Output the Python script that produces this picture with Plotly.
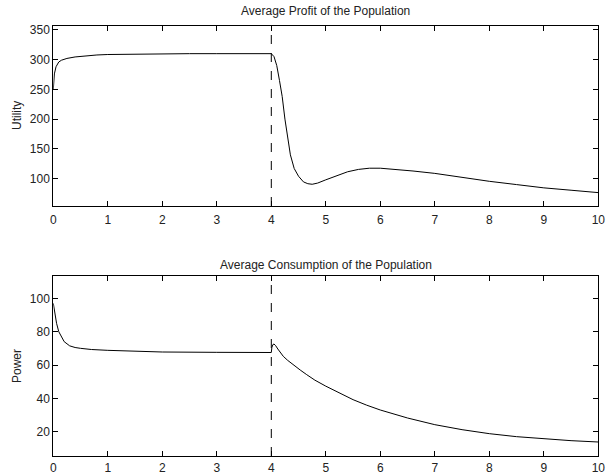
import plotly.graph_objects as go

# ---- data ----
profit_t = [0, 0.02, 0.05, 0.1, 0.15, 0.25, 0.4, 0.6, 0.8, 1.0, 1.5, 2.0, 2.5, 3.0, 3.5, 4.0,
            4.05, 4.1, 4.15, 4.2, 4.25, 4.3, 4.35, 4.42, 4.5, 4.59, 4.67, 4.75, 4.85, 5.0,
            5.2, 5.4, 5.6, 5.8, 6.0, 6.3, 6.6, 7.0, 7.5, 8.0, 8.5, 9.0, 9.5, 10.0]
profit_u = [250, 276, 288, 296, 299, 302, 304.5, 306.5, 307.8, 308.6, 309.4, 309.8, 310, 310, 310, 310,
            305, 290, 265, 238, 200, 168, 140, 117, 104, 94.5, 91.5, 90.5, 92.5, 98,
            105, 111.5, 115.5, 117.5, 117.5, 115.5, 112.8, 108.8, 102, 95.5, 90, 84.5, 80.5, 76.5]

cons_t = [0, 0.03, 0.06, 0.1, 0.15, 0.2, 0.3, 0.4, 0.5, 0.7, 1.0, 1.5, 2.0, 3.0, 4.0,
          4.01, 4.03, 4.05, 4.08, 4.12, 4.17, 4.22, 4.3, 4.4, 4.53, 4.65, 4.8, 5.0, 5.25,
          5.5, 5.75, 6.0, 6.5, 7.0, 7.5, 8.0, 8.5, 9.0, 9.5, 10.0]
cons_p = [97, 90, 85, 80, 76.5, 74, 71.5, 70.5, 70, 69.3, 68.8, 68.2, 67.8, 67.6, 67.5,
          70.5, 72.3, 72.6, 71.6, 69.6, 67.2, 65.2, 62.8, 60.1, 57, 54.2, 50.9, 47.3, 43,
          39.2, 35.9, 33, 28.2, 24.2, 21.2, 18.8, 17, 15.6, 14.6, 13.8]

switch_time = 4
x_ticks = list(range(0, 11))
profit_ticks = [100, 150, 200, 250, 300, 350]
power_ticks = [20, 40, 60, 80, 100]

W, H = 613, 474
FONT = "Liberation Sans, Arial, Helvetica, sans-serif"
FS = 12

fig = go.Figure()
fig.add_trace(go.Scatter(x=profit_t, y=profit_u, mode="lines",
                         line=dict(color="black", width=1), xaxis="x", yaxis="y", showlegend=False))
fig.add_trace(go.Scatter(x=cons_t, y=cons_p, mode="lines",
                         line=dict(color="black", width=1), xaxis="x2", yaxis="y2", showlegend=False))

xd = [53.3 / W, 598.3 / W]
top_d = [1 - 206 / H, 1 - 25.7 / H]
bot_d = [1 - 456 / H, 1 - 276 / H]

axis_common = dict(showline=True, linecolor="black", linewidth=1, mirror="allticks",
                   ticks="inside", ticklen=5, tickwidth=1, tickcolor="black",
                   showgrid=False, zeroline=False, automargin=False,
                   tickfont=dict(family=FONT, size=FS, color="#222"))

fig.update_layout(
    width=W, height=H, margin=dict(l=0, r=0, t=0, b=0),
    paper_bgcolor="white", plot_bgcolor="white",
    xaxis=dict(domain=xd, range=[0, 10], tickvals=x_ticks, anchor="y", ticklabelstandoff=3, **axis_common),
    yaxis=dict(domain=top_d, range=[54, 357], tickvals=profit_ticks, anchor="x", **axis_common),
    xaxis2=dict(domain=xd, range=[0, 10], tickvals=x_ticks, anchor="y2", ticklabelstandoff=1, **axis_common),
    yaxis2=dict(domain=bot_d, range=[5.4, 113.4], tickvals=power_ticks, anchor="x2", **axis_common),
    font=dict(family=FONT, size=FS, color="#222"),
)

for xr, yr in [("x", "y"), ("x2", "y2")]:
    fig.add_shape(type="line", xref=xr, yref=yr + " domain", x0=switch_time, x1=switch_time,
                  y0=0, y1=1, line=dict(color="black", width=1, dash="dash"))

annots = [
    dict(text="Average Profit of the Population", x=(xd[0] + xd[1]) / 2, y=1 - 11 / H),
    dict(text="Average Consumption of the Population", x=(xd[0] + xd[1]) / 2, y=1 - 265 / H),
]
for a in annots:
    fig.add_annotation(text=a["text"], x=a["x"], y=a["y"], xref="paper", yref="paper",
                       showarrow=False, xanchor="center", yanchor="middle",
                       font=dict(family=FONT, size=FS, color="#222"))
for txt, yc in [("Utility", (26 + 206) / 2), ("Power", (276 + 456) / 2)]:
    fig.add_annotation(text=txt, x=17 / W, y=1 - yc / H, xref="paper", yref="paper",
                       showarrow=False, textangle=-90, xanchor="center", yanchor="middle",
                       font=dict(family=FONT, size=FS, color="#222"))

fig.write_html("out.html", config={"displayModeBar": False},
               post_script="document.body.style.margin='0';")
